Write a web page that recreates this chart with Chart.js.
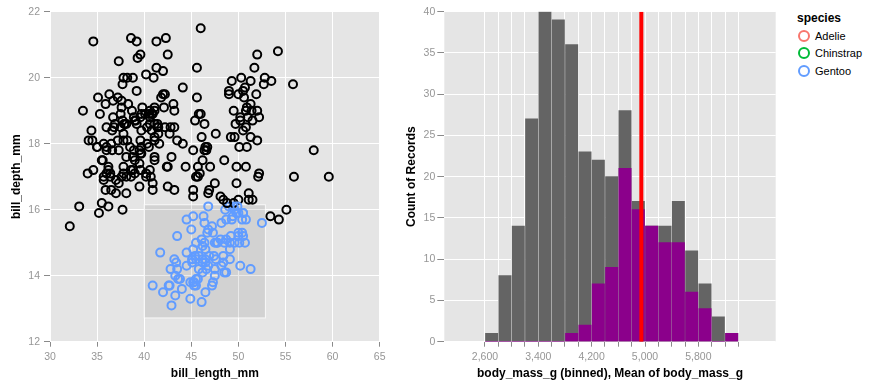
<!DOCTYPE html>
<html><head><meta charset="utf-8">
<script src="https://cdn.jsdelivr.net/npm/chart.js@4.4.1/dist/chart.umd.min.js"></script>
<style>
html,body{margin:0;padding:0;background:#fff;}
#wrap{position:relative;width:873px;height:389px;overflow:hidden;font-family:"Liberation Sans",Arial,sans-serif;}
canvas{position:absolute;top:0;}
#scatter{left:0;}
#hist{left:390px;}
#legendTitle{position:absolute;left:797px;top:11px;font-size:12px;line-height:14px;font-weight:bold;color:#000;}
.li{position:absolute;left:797.5px;height:14px;line-height:14px;font-size:11px;color:#000;display:flex;align-items:center;}
.sw{display:inline-block;width:8px;height:8px;border-radius:50%;border:2px solid;margin-right:5.5px;}
</style></head>
<body>
<div id="wrap">
<canvas id="scatter" width="390" height="389"></canvas>
<canvas id="hist" width="390" height="389"></canvas>
<div id="legendTitle">species</div>
<div id="legendItems"></div>
</div>
<script>
// ---------- Data: bill measurements by species ----------
const adelieBillLength = [39.1,39.5,40.3,36.7,39.3,38.9,39.2,34.1,42.0,37.8,
37.8,41.1,38.6,34.6,36.6,38.7,42.5,34.4,46.0,37.8,
37.7,35.9,38.2,38.8,35.3,40.6,40.5,37.9,40.5,39.5,
37.2,39.5,40.9,36.4,39.2,38.8,42.2,37.6,39.8,36.5,
40.8,36.0,44.1,37.0,39.6,41.1,37.5,36.0,42.3,39.6,
40.1,35.0,42.0,34.5,41.4,39.0,40.6,36.5,37.6,35.7,
41.3,37.6,41.1,36.4,41.6,35.5,41.1,35.9,41.8,33.5,
39.7,39.6,45.8,35.5,42.8,40.9,37.2,36.2,42.1,34.6,
42.9,36.7,35.1,37.3,41.3,36.3,36.9,38.3,38.9,35.7,
41.1,34.0,39.6,36.2,40.8,38.1,40.3,33.1,43.2,35.0,
41.0,37.7,37.8,37.9,39.7,38.6,38.2,38.1,43.2,38.1,
45.6,39.7,42.2,39.6,42.7,38.6,37.3,35.7,41.1,36.2,
37.7,40.2,41.4,35.2,40.6,38.8,41.5,39.0,44.1,38.5,
43.1,36.8,37.5,38.1,41.1,35.6,40.2,37.0,39.7,40.2,
40.6,32.1,40.7,37.3,39.0,39.2,36.6,36.0,37.8,36.0,
41.5];
const adelieBillDepth = [18.7,17.4,18.0,19.3,20.6,17.8,19.6,18.1,20.2,17.1,
17.3,17.6,21.2,21.1,17.8,19.0,20.7,18.4,21.5,18.3,
18.7,19.2,18.1,17.2,18.9,18.6,17.9,18.6,18.9,16.7,
18.1,17.8,18.9,17.0,21.1,20.0,18.5,19.3,19.1,18.0,
18.4,18.5,19.7,16.9,18.8,19.0,18.9,17.9,21.2,17.7,
18.9,17.9,19.5,18.1,18.6,17.5,18.8,16.6,19.1,16.9,
21.1,17.0,18.2,17.1,18.0,16.2,19.1,16.6,19.4,19.0,
18.4,17.2,18.9,17.5,18.5,16.8,19.4,16.1,19.1,17.2,
17.6,18.8,19.4,17.8,20.3,19.5,18.6,19.2,18.8,18.0,
18.1,17.1,18.1,17.3,18.9,18.6,18.5,16.1,18.5,17.9,
20.0,16.0,20.0,18.6,18.9,17.2,20.0,17.0,19.0,16.5,
20.3,17.7,19.5,20.7,18.3,17.0,20.5,17.0,18.6,17.2,
19.8,17.0,18.5,15.9,19.0,17.6,18.3,17.1,18.0,17.9,
19.2,18.5,18.5,17.6,17.5,17.5,20.1,16.5,17.9,17.1,
17.2,15.5,17.0,16.8,18.7,18.6,18.4,17.8,18.1,17.1,
18.5];
const gentooBillLength = [46.1,50.0,48.7,50.0,47.6,46.5,45.4,46.7,43.3,46.8,
40.9,49.0,45.5,48.4,45.8,49.3,42.0,49.2,46.2,48.7,
50.2,45.1,46.5,46.3,42.9,46.1,44.5,47.8,48.2,50.0,
47.3,42.8,45.1,59.6,49.1,48.4,42.6,44.4,44.0,48.7,
42.7,49.6,45.3,49.6,50.5,43.6,45.5,50.5,44.9,45.2,
46.6,48.5,45.1,50.1,46.5,45.0,43.8,45.5,43.2,50.4,
45.3,46.2,45.7,54.3,45.8,49.8,46.2,49.5,43.5,50.7,
47.7,46.4,48.2,46.5,46.4,48.6,47.5,51.1,45.2,45.2,
49.1,52.5,47.4,50.0,44.9,50.8,43.4,51.3,47.5,52.1,
47.5,52.2,45.5,49.5,44.5,50.8,49.4,46.9,48.4,51.1,
48.5,55.9,47.2,49.1,47.3,46.8,41.7,53.4,43.3,48.1,
50.5,49.8,43.5,51.5,46.2,55.1,44.5,48.8,47.2,46.8,
50.4,45.2,49.9];
const gentooBillDepth = [13.2,16.3,14.1,15.2,14.5,13.5,14.6,15.3,13.4,15.4,
13.7,16.1,13.7,14.6,14.6,15.7,13.5,15.2,14.5,15.1,
14.3,14.5,14.5,15.8,13.1,15.1,14.3,15.0,14.3,15.3,
15.3,14.2,14.5,17.0,14.8,16.3,13.7,17.3,13.6,15.7,
13.7,16.0,13.7,15.0,15.9,13.9,13.9,15.9,13.3,15.8,
14.2,14.1,14.4,15.0,14.4,15.4,13.9,15.0,14.5,15.3,
13.8,14.9,13.9,15.7,14.2,16.8,14.4,16.2,14.2,15.0,
15.0,15.6,15.6,14.8,15.0,16.0,14.2,16.3,13.8,16.4,
14.5,15.6,14.6,15.9,13.8,17.3,14.4,14.2,14.0,17.0,
15.0,17.1,14.5,16.1,14.7,15.7,15.8,14.6,14.4,16.5,
15.0,17.0,15.5,15.0,13.8,16.1,14.7,15.8,14.0,15.1,
15.2,15.9,15.2,16.3,14.1,16.0,15.7,16.2,13.7,14.3,
15.7,14.8,16.1];
const chinstrapBillLength = [46.5,50.0,51.3,45.4,52.7,45.2,46.1,51.3,46.0,51.3,
46.6,51.7,47.0,52.0,45.9,50.5,50.3,58.0,46.4,49.2,
42.4,48.5,43.2,50.6,46.7,52.0,50.5,49.5,46.4,52.8,
40.9,54.2,42.5,51.0,49.7,47.5,47.6,52.0,46.9,53.5,
49.0,46.2,50.9,45.5,50.9,50.8,50.1,49.0,51.5,49.8,
48.1,51.4,45.7,50.7,42.5,52.2,45.2,49.3,50.2,45.6,
51.9,46.8,45.7,55.8,43.5,49.6,50.8,50.2];
const chinstrapBillDepth = [17.9,19.5,19.2,18.7,19.8,17.8,18.2,18.2,18.9,19.9,
17.8,20.3,17.3,18.1,17.1,19.6,20.0,17.8,18.6,18.2,
17.3,17.5,16.6,19.4,17.9,19.0,18.4,19.0,17.8,20.0,
16.6,20.8,16.7,18.8,18.6,16.8,18.3,20.7,16.6,19.9,
19.5,17.5,19.1,17.0,17.9,18.5,17.9,19.6,18.7,17.3,
16.4,19.0,17.3,19.7,17.3,18.8,16.6,19.9,18.8,19.4,
19.5,16.5,17.0,19.8,18.1,18.2,19.0,18.7];

const speciesNames = ['Adelie', 'Chinstrap', 'Gentoo'];
const speciesColors = ['#F8766D', '#00BA38', '#619CFF'];

// brush selection (interval) in data units
const brushBillLength = [40.0, 52.87];
const brushBillDepth = [12.72, 16.15];

// ---------- Data: body mass histogram ----------
const binStarts = [2600,2800,3000,3200,3400,3600,3800,4000,4200,4400,4600,4800,5000,5200,5400,5600,5800,6000,6200];
const binWidth = 200;
const totalCounts =    [1,8,14,27,40,39,36,23,22,20,28,17,14,14,17,11,7,3,1];
const selectedCounts = [0,0,0,0,0,0,1,2,7,9,21,16,14,12,12,6,4,0,1];
const selectedMeanMass = 4945;
const massTicks = [2600,2800,3000,3200,3400,3600,3800,4000,4200,4400,4600,4800,5000,5200,5400,5600,5800,6000,6200,6400];
const massLabelTicks = [2600,3400,4200,5000,5800];
const countTicks = [0,5,10,15,20,25,30,35,40];

// ---------- Chart setup ----------
Chart.defaults.font.family = '"Liberation Sans", Arial, sans-serif';
Chart.defaults.animation = false;

const LABEL_GREY = '#969696';
const TICK_GREY = '#8a8a8a';
const TICK_FONT = {size: 10.5};
const TITLE_FONT = {size: 12, weight: 'bold'};
const bgPlugin = {
  id: 'plotBg',
  beforeDraw(chart) {
    const {ctx, chartArea: a} = chart;
    ctx.save();
    ctx.fillStyle = '#e5e5e5';
    ctx.fillRect(a.left, a.top, a.right - a.left, a.bottom - a.top);
    ctx.restore();
  }
};
const brushPlugin = {
  id: 'brush',
  beforeDatasetsDraw(chart) {
    const {ctx, scales: {x, y}} = chart;
    const x0 = x.getPixelForValue(brushBillLength[0]);
    const x1 = x.getPixelForValue(brushBillLength[1]);
    const y0 = y.getPixelForValue(brushBillDepth[1]);
    const y1 = y.getPixelForValue(brushBillDepth[0]);
    ctx.save();
    ctx.fillStyle = 'rgba(51,51,51,0.1)';
    ctx.fillRect(x0, y0, x1 - x0, y1 - y0);
    ctx.strokeStyle = 'rgba(255,255,255,0.8)';
    ctx.lineWidth = 1;
    ctx.strokeRect(x0, y0, x1 - x0, y1 - y0);
    ctx.restore();
  }
};

function inBrush(p) {
  return p.x >= brushBillLength[0] && p.x <= brushBillLength[1] &&
         p.y >= brushBillDepth[0] && p.y <= brushBillDepth[1];
}
function speciesDataset(name, xs, ys) {
  const idx = speciesNames.indexOf(name);
  const pts = xs.map((v, i) => ({x: v, y: ys[i]}));
  return {
    label: name,
    data: pts,
    pointRadius: 4,
    pointBorderWidth: 2,
    pointBackgroundColor: 'rgba(0,0,0,0)',
    pointBorderColor: ctx => (ctx.raw && inBrush(ctx.raw)) ? speciesColors[idx] : '#000',
    pointHoverRadius: 4
  };
}

new Chart(document.getElementById('scatter'), {
  type: 'scatter',
  data: {
    datasets: [
      speciesDataset('Chinstrap', chinstrapBillLength, chinstrapBillDepth),
      speciesDataset('Gentoo', gentooBillLength, gentooBillDepth),
      speciesDataset('Adelie', adelieBillLength, adelieBillDepth)
    ]
  },
  options: {
    responsive: false,
    animation: false,
    layout: {padding: {top: 11.7, right: 10, bottom: 0, left: 0}},
    plugins: {legend: {display: false}, tooltip: {enabled: false}},
    scales: {
      x: {
        type: 'linear', min: 30, max: 65,
        ticks: {stepSize: 5, color: LABEL_GREY, font: TICK_FONT, padding: 4.5, maxRotation: 0},
        grid: {color: '#ffffff', lineWidth: 1, tickColor: TICK_GREY, tickLength: 5, drawTicks: true},
        border: {display: false},
        title: {display: true, text: 'bill_length_mm', color: '#000', font: TITLE_FONT, padding: {top: 0, bottom: 8.5}},
        afterFit(s) { s.height = 47.3; }
      },
      y: {
        type: 'linear', min: 12, max: 22,
        ticks: {stepSize: 2, color: LABEL_GREY, font: TICK_FONT, padding: 4},
        grid: {color: '#ffffff', lineWidth: 1, tickColor: TICK_GREY, tickLength: 6, drawTicks: true},
        border: {display: false},
        title: {display: true, text: 'bill_depth_mm', color: '#000', font: TITLE_FONT, padding: {top: 9.8, bottom: 0}},
        afterFit(s) { s.width = 50; }
      }
    }
  },
  plugins: [bgPlugin, brushPlugin]
});

const barThickness = 12.3;
new Chart(document.getElementById('hist'), {
  type: 'bar',
  data: {
    datasets: [
      {
        type: 'line',
        label: 'Mean of body_mass_g',
        data: [{x: selectedMeanMass, y: countTicks[0]}, {x: selectedMeanMass, y: countTicks[countTicks.length - 1]}],
        borderColor: '#ff0000', borderWidth: 4, pointRadius: 0, order: 0
      },
      {
        label: 'selected',
        data: binStarts.map((b, i) => ({x: b + binWidth / 2, y: selectedCounts[i]})),
        backgroundColor: '#8B008B', grouped: false, barThickness: barThickness, order: 1
      },
      {
        label: 'all',
        data: binStarts.map((b, i) => ({x: b + binWidth / 2, y: totalCounts[i]})),
        backgroundColor: '#646464', grouped: false, barThickness: barThickness, order: 2
      }
    ]
  },
  options: {
    responsive: false,
    animation: false,
    layout: {padding: {top: 11.7, right: 4.3, bottom: 0, left: 0}},
    plugins: {legend: {display: false}, tooltip: {enabled: false}},
    scales: {
      x: {
        type: 'linear', min: 1990, max: 6960, offset: false,
        afterBuildTicks(s) { s.ticks = massTicks.map(v => ({value: v})); },
        ticks: {autoSkip: false, maxRotation: 0, color: LABEL_GREY, font: TICK_FONT, padding: 4.5,
          callback: v => massLabelTicks.includes(v) ? v.toLocaleString('en-US') : ''},
        grid: {offset: false, color: '#ffffff', lineWidth: 1, tickColor: TICK_GREY, tickLength: 5, drawTicks: true},
        border: {display: false},
        title: {display: true, text: 'body_mass_g (binned), Mean of body_mass_g', color: '#000', font: TITLE_FONT, padding: {top: 0, bottom: 8.5}},
        afterFit(s) { s.height = 47.3; }
      },
      y: {
        type: 'linear', min: 0, max: 40,
        afterBuildTicks(s) { s.ticks = countTicks.map(v => ({value: v})); },
        ticks: {color: LABEL_GREY, font: TICK_FONT, padding: 2},
        grid: {color: '#ffffff', lineWidth: 1, tickColor: TICK_GREY, tickLength: 7, drawTicks: true},
        border: {display: false},
        title: {display: true, text: 'Count of Records', color: '#000', font: TITLE_FONT, padding: {top: 14.1, bottom: 0}},
        afterFit(s) { s.width = 54.3; }
      }
    }
  },
  plugins: [bgPlugin]
});

// legend (HTML, real text)
const legendItems = document.getElementById('legendItems');
const legendCenters = [35.7, 53, 70.7];
speciesNames.forEach((name, i) => {
  const d = document.createElement('div');
  d.className = 'li';
  d.style.top = (legendCenters[i] - 7) + 'px';
  const sw = document.createElement('span');
  sw.className = 'sw';
  sw.style.borderColor = speciesColors[i];
  d.appendChild(sw);
  d.appendChild(document.createTextNode(name));
  legendItems.appendChild(d);
});
</script>
</body></html>
